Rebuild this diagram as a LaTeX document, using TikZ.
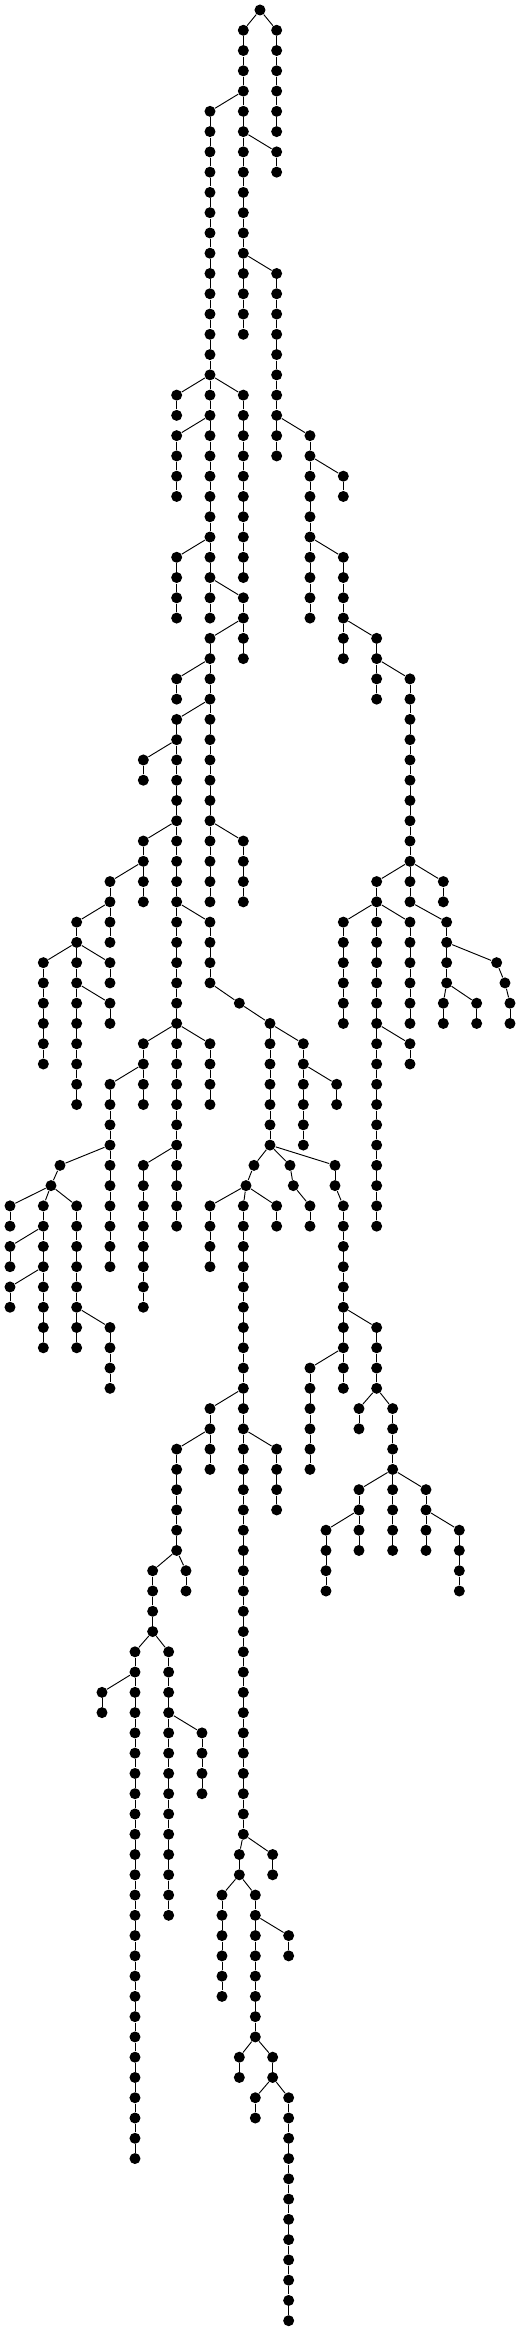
\documentclass[tikz,border=0pt]{standalone}
\newcommand{\vrun}[4]{%
  \foreach \lv [remember=\lv as \lp (initially #3)] in {#3,...,#4}{%
    \node[vtx] (#1-\lv) at (#2,\lv) {};
    \ifnum\lv>#3 \draw (#1-\lp) -- (#1-\lv);\fi
  }}
\begin{document}
\begin{tikzpicture}[x=1cm, y={(0,-0.6081cm)}, line width=0.8pt,
	vtx/.style={circle, fill, inner sep=0pt, minimum size=0.33cm}]
		\useasboundingbox (-0.3cm,0.3cm) rectangle (15.3cm,-69.632cm);
		\node[vtx] (root) at (7.5,0) {};
		\vrun{a}{7}{1}{16} \vrun{b}{8}{1}{6} \vrun{c}{6}{5}{30} \vrun{d}{8}{7}{8}
		\vrun{e}{8}{13}{22} \vrun{f}{5}{19}{20} \vrun{g}{7}{19}{28} \vrun{h}{5}{21}{24}
		\vrun{i}{5}{27}{30} \vrun{j}{7}{29}{32} \vrun{k}{6}{31}{44} \vrun{l}{5}{33}{34}
		\vrun{m}{5}{35}{60} \vrun{n}{4}{37}{38} \vrun{o}{7}{41}{44} \vrun{p}{4}{41}{44}
		\vrun{q}{3}{43}{46} \vrun{r}{2}{45}{54} \vrun{s}{1}{47}{52} \vrun{t}{3}{47}{48}
		\vrun{u}{3}{49}{50} \vrun{v}{6}{45}{48} \vrun{w}{7.8}{50}{56} \vrun{x}{8.8}{51}{56}
		\vrun{y}{9.8}{53}{54} \vrun{z}{4}{51}{54} \vrun{aa}{6}{51}{54} \vrun{ab}{3}{53}{62}
		\vrun{ac}{4}{57}{64} \vrun{ae}{0}{59}{60} \vrun{af}{1}{59}{66} \vrun{ag}{0}{61}{62}
		\vrun{ah}{0}{63}{64} \vrun{ai}{2}{59}{66} \vrun{aj}{3}{65}{68}
		\vrun{ba}{9}{21}{30} \vrun{bb}{10}{23}{24} \vrun{bc}{10}{27}{32} \vrun{bd}{11}{31}{34}
		\vrun{be}{12}{33}{44} \vrun{bf}{11}{43}{60} \vrun{bg}{13}{43}{44} \vrun{bh}{10}{45}{50}
		\vrun{bi}{12}{45}{50} \vrun{bj}{13.1}{45}{48} \vrun{bk}{13}{49}{50} \vrun{bl}{14}{49}{50}
		\vrun{bm}{15}{49}{50} \vrun{bn}{12}{51}{52}
		\vrun{ca}{7}{59}{90} \vrun{cb}{6}{69}{72} \vrun{cc}{8}{71}{74} \vrun{cd}{5}{71}{76}
		\vrun{ce}{5.28}{77}{78} \vrun{cf}{4.28}{77}{80} \vrun{cg}{3.75}{81}{106} \vrun{ch}{2.76}{83}{84}
		\vrun{ci}{4.76}{81}{94} \vrun{cj}{5.76}{85}{88} \vrun{ck}{6.88}{91}{92} \vrun{cl}{7.88}{91}{92}
		\vrun{cm}{6.36}{93}{98} \vrun{cn}{7.36}{93}{100} \vrun{co}{8.36}{95}{96} \vrun{cp}{6.88}{101}{102}
		\vrun{cq}{7.88}{101}{102} \vrun{cr}{7.36}{103}{104} \vrun{cs}{8.36}{103}{114}
		\vrun{dl}{6}{59}{62} \vrun{dr}{8}{59}{60} \vrun{ea}{9}{59}{60} \vrun{eb}{9.75}{57}{58}
		\vrun{ec}{10}{59}{68} \vrun{ed}{9}{67}{72} \vrun{ee}{11}{65}{68} \vrun{ef}{10.47}{69}{70}
		\vrun{eg}{11.48}{69}{76} \vrun{eh}{10.47}{73}{76} \vrun{ei}{9.48}{75}{78} \vrun{ej}{12.48}{73}{76}
		\vrun{ek}{13.48}{75}{78}
		\node[vtx] (v49) at (6.88,49) {};
		\node[vtx] (ad57) at (1.5,57) {};
		\node[vtx] (ad58) at (1.23,58) {};
		\node[vtx] (bo47) at (14.6,47) {};
		\node[vtx] (bo48) at (14.85,48) {};
		\node[vtx] (cx57) at (7.32,57) {};
		\node[vtx] (cx58) at (7.08,58) {};
		\node[vtx] (dx57) at (8.4,57) {};
		\node[vtx] (dx58) at (8.5,58) {};
		\foreach \na/\nb in {root/a-1, root/b-1, a-4/c-5, a-6/d-7, a-12/e-13, c-18/f-19, c-18/g-19,
			c-20/h-21, c-26/i-27, c-28/j-29, j-30/k-31, k-32/l-33, k-34/m-35, m-36/n-37, k-40/o-41,
			m-40/p-41, p-42/q-43, q-44/r-45, r-46/s-47, r-46/t-47, r-48/u-49, m-44/v-45, v-48/v49,
			v49/w-50, w-50/x-51, x-52/y-53, m-50/z-51, m-50/aa-51, z-52/ab-53, m-56/ac-57,
			ab-56/ad57, ad57/ad58, ad58/ae-59, ad58/af-59, ad58/ai-59, af-60/ag-61, af-62/ah-63,
			ai-64/aj-65}
		\draw (\na) -- (\nb);
		\foreach \na/\nb in {e-20/ba-21, ba-22/bb-23, ba-26/bc-27, bc-30/bd-31, bd-32/be-33,
			be-42/bf-43, be-42/bg-43, bf-44/bh-45, bf-44/bi-45, be-44/bj-45, bj-46/bo47, bo47/bo48,
			bo48/bm-49, bj-48/bk-49, bj-48/bl-49, bf-50/bn-51}
		\draw (\na) -- (\nb);
		\foreach \na/\nb in {w-56/cx57, w-56/dx57, w-56/eb-57, cx57/cx58, cx58/dl-59, cx58/ca-59,
			cx58/dr-59, dx57/dx58, dx58/ea-59, eb-58/ec-59, ca-68/cb-69, ca-70/cc-71, cb-70/cd-71,
			cd-76/ce-77, cd-76/cf-77, cf-80/cg-81, cf-80/ci-81, cg-82/ch-83, ci-84/cj-85,
			ca-90/ck-91, ca-90/cl-91, ck-92/cm-93, ck-92/cn-93, cn-94/co-95, cn-100/cp-101,
			cn-100/cq-101, cq-102/cr-103, cq-102/cs-103, ec-64/ee-65, ec-66/ed-67, ee-68/ef-69,
			ee-68/eg-69, eg-72/eh-73, eg-72/ej-73, eh-74/ei-75, ej-74/ek-75}
		\draw (\na) -- (\nb);
\end{tikzpicture}
\end{document}
